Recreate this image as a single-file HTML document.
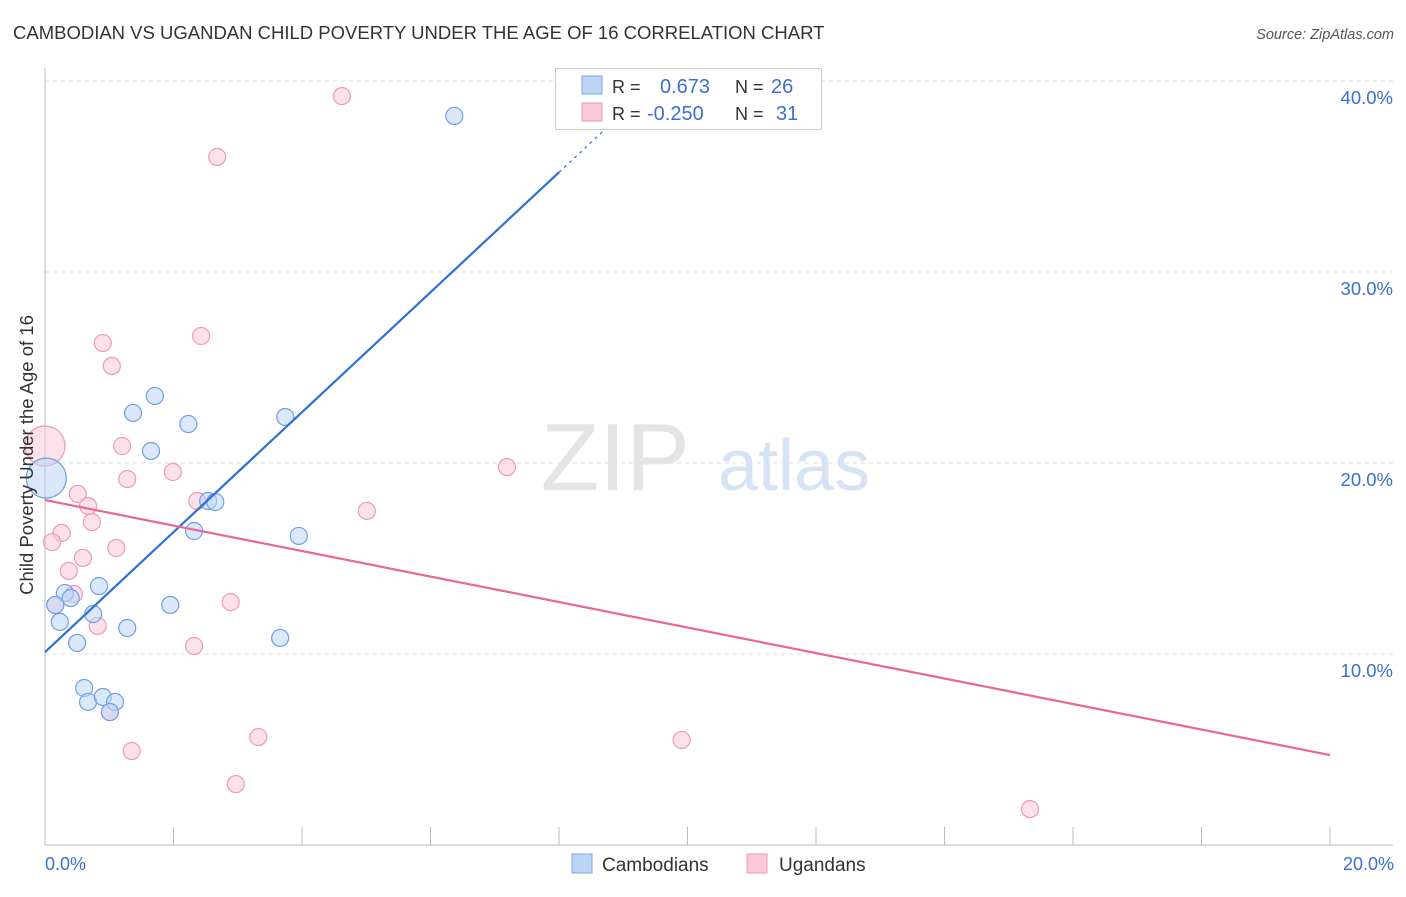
<!DOCTYPE html>
<html><head><meta charset="utf-8"><style>
body{margin:0;background:#fff;font-family:"Liberation Sans",sans-serif}
svg text{font-family:"Liberation Sans",sans-serif}
</style></head><body>
<svg width="1406" height="892" xmlns="http://www.w3.org/2000/svg">
<text x="13" y="39" font-size="18.5" fill="#333">CAMBODIAN VS UGANDAN CHILD POVERTY UNDER THE AGE OF 16 CORRELATION CHART</text>
<text x="1394" y="39" font-size="14.5" fill="#555" text-anchor="end" font-style="italic">Source: ZipAtlas.com</text>
<g id="grid"></g>
<text x="690" y="490" font-size="96" fill="#e4e4e4" text-anchor="end" font-family="Liberation Serif">ZIP</text>
<text x="718" y="490" font-size="72" fill="#d6e3f5">atlas</text>
<g id="pts"></g>
<g id="lines"></g>
<text x="33" y="455" font-size="18.5" fill="#333" text-anchor="middle" transform="rotate(-90 33 455)">Child Poverty Under the Age of 16</text>
<text x="45" y="870" font-size="18" fill="#3b6fd4">0.0%</text>
<text x="1394" y="870" font-size="18" fill="#3b6fd4" text-anchor="end">20.0%</text>
<g>
<rect x="555.5" y="68.5" width="266" height="61" fill="#fff" stroke="#ccc"/>
<rect x="582" y="76" width="20" height="18" fill="#bcd5f5" stroke="#7aa7e6"/>
<rect x="582" y="103" width="20" height="18" fill="#f9c9d8" stroke="#ee9ab5"/>
<text x="612" y="93" font-size="18" fill="#333">R = </text><text x="660" y="93" font-size="20" fill="#3b6fd4">0.673</text>
<text x="735" y="93" font-size="18" fill="#333">N = </text><text x="771" y="93" font-size="20" fill="#3b6fd4">26</text>
<text x="612" y="120" font-size="18" fill="#333">R = </text><text x="647" y="120" font-size="20" fill="#3b6fd4">-0.250</text>
<text x="735" y="120" font-size="18" fill="#333">N = </text><text x="776" y="120" font-size="20" fill="#3b6fd4">31</text>
</g>
<g><rect x="572" y="854" width="20" height="19" fill="#bcd5f5" stroke="#7aa7e6"/><text x="602" y="871" font-size="19" fill="#333">Cambodians</text></g>
<g><rect x="747" y="854" width="20" height="19" fill="#f9c9d8" stroke="#ee9ab5"/><text x="779" y="871" font-size="19" fill="#333">Ugandans</text></g>
</svg>
<script>
const yTicks=[10,20,30,40];
const xTickCount=10;
const blueX=[6.37,1.71,1.37,2.23,3.74,1.65,2.54,2.65,2.32,3.95,0.84,0.31,0.40,0.16,0.75,0.23,1.95,1.28,0.50,3.66,0.61,0.67,0.90,1.09,1.01,0.02];
const blueY=[38.17,23.51,22.62,22.04,22.41,20.63,18.01,17.96,16.44,16.18,13.56,13.19,12.93,12.57,12.09,11.68,12.57,11.36,10.58,10.84,8.22,7.49,7.75,7.49,6.96,19.21];
const pinkX=[4.62,2.68,0.90,2.43,1.04,1.20,1.99,7.19,1.28,0.51,2.37,0.67,5.01,0.73,0.26,0.11,1.11,0.59,0.37,0.45,0.82,2.89,2.32,1.01,1.35,3.32,9.91,2.97,15.33,0.16,0.0];
const pinkY=[39.21,36.02,26.28,26.65,25.08,20.89,19.53,19.79,19.16,18.38,18.01,17.75,17.49,16.91,16.34,15.86,15.55,15.03,14.35,13.14,11.47,12.72,10.42,6.96,4.92,5.65,5.50,3.19,1.88,12.57,20.89];
const blueTrend=[10.1,3.14];
const pinkTrend=[18.06,-0.6675];
const X=v=>45+v*64.25, Y=v=>654-(v-10)*19.1;
const NS="http://www.w3.org/2000/svg";
function mk(p,t,a){const e=document.createElementNS(NS,t);for(const k in a)e.setAttribute(k,a[k]);p.appendChild(e);return e;}
const g=document.getElementById('grid');
yTicks.forEach(t=>{
 const l=mk(g,'line',{x1:45,x2:1393,y1:Y(t),y2:Y(t),stroke:'#ddd','stroke-dasharray':'4,4'});
 
 
 const tx=mk(g,'text',{x:1393,y:Y(t)+23,'font-size':18.5,fill:'#3b6fd4','text-anchor':'end'});
 tx.textContent=t.toFixed(1)+'%';
 
 
});
const ax=mk(g,'line',{x1:45,x2:45,y1:68,y2:845,stroke:'#bbb'});


const bx=mk(g,'line',{x1:45,x2:1393,y1:845,y2:845,stroke:'#bbb'});


for(let i=1;i<=xTickCount;i++){const v=i*2;const t=mk(g,'line',{x1:X(v),x2:X(v),y1:827,y2:845,stroke:'#bbb'});
 
 }
const P=document.getElementById('pts');
function pts(xs,ys,fill,stroke,name){xs.forEach((x,i)=>{const big=(x<0.05);const c=mk(P,'circle',{cx:X(x),cy:Y(ys[i]),r:big?20:8.5,fill:fill,'fill-opacity':0.55,stroke:stroke,'stroke-width':1.2});
 
 });}
pts(pinkX,pinkY,'#f9c9d8','#ee9ab5','point-ugandan');
pts(blueX,blueY,'#bcd5f5','#6fa0e4','point-cambodian');
const L=document.getElementById('lines');
const b1=mk(L,'line',{x1:X(0),y1:Y(blueTrend[0]),x2:X(8),y2:Y(blueTrend[0]+blueTrend[1]*8),stroke:'#2c6fd6','stroke-width':2.2});


const b2=mk(L,'line',{x1:X(8),y1:Y(blueTrend[0]+blueTrend[1]*8),x2:X(9.5),y2:Y(blueTrend[0]+blueTrend[1]*9.5),stroke:'#2c6fd6','stroke-width':1.2,'stroke-dasharray':'3,4'});


const p1=mk(L,'line',{x1:X(0),y1:Y(pinkTrend[0]),x2:X(20),y2:Y(pinkTrend[0]+pinkTrend[1]*20),stroke:'#e8679a','stroke-width':2.2});


</script>
</body></html>
